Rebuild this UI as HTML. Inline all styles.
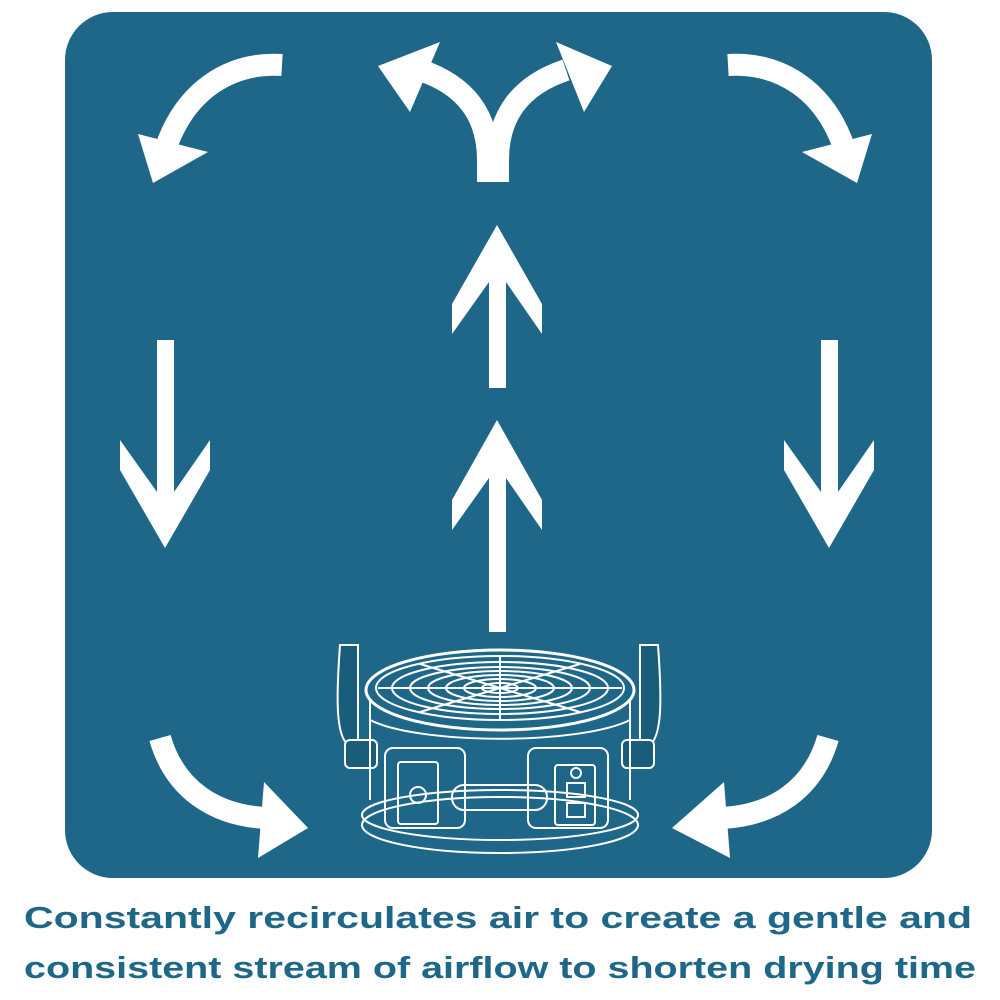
<!DOCTYPE html>
<html><head><meta charset="utf-8"><style>
html,body{margin:0;padding:0;background:#fff;}
svg{display:block}
</style></head><body>
<svg width="1000" height="1000" viewBox="0 0 1000 1000" xmlns="http://www.w3.org/2000/svg">
<rect x="65" y="12" width="867" height="866" rx="48" fill="#1e6788"/>
<g fill="#fff">
<path d="M282,65 C230,62 185,90 165,150" stroke="#fff" stroke-width="22" fill="none"/>
<polygon points="138,134 208,152 153,183"/>
<path d="M728,65 C780,62 825,90 845,150" stroke="#fff" stroke-width="22" fill="none"/>
<polygon points="872,134 802,152 857,183"/>
<path d="M488,182 L488,160 C488,115 465,85 420,70" stroke="#fff" stroke-width="22" fill="none"/>
<path d="M498,182 L498,160 C498,115 521,85 566,70" stroke="#fff" stroke-width="22" fill="none"/>
<polygon points="378,66 440,42 410,112"/>
<polygon points="612,66 556,42 584,112"/>
<polygon points="157,340 174,340 174,492 210,440 210,470 165,548 120,470 120,440 157,492"/>
<polygon points="821,340 838,340 838,492 874,440 874,470 829,548 784,470 784,440 821,492"/>
<polygon points="489,388 506,388 506,282 542,334 542,304 497,225 452,304 452,334 489,282"/>
<polygon points="489,632 506,632 506,478 542,530 542,500 497,420 452,500 452,530 489,478"/>
<path d="M160,738 C175,790 215,815 265,818" stroke="#fff" stroke-width="22" fill="none"/>
<polygon points="258,858 308,828 264,782"/>
<path d="M828,738 C813,790 773,815 723,818" stroke="#fff" stroke-width="22" fill="none"/>
<polygon points="730,858 672,828 724,782"/>
</g>
<g fill="none" stroke="#fff" stroke-width="2">
<path d="M340,645 h18 v100 h-10 c-12,-10 -12,-45 -8,-100z" fill="#1a5d7b"/>
<path d="M640,645 h18 c4,55 4,90 -8,100 h-10z" fill="#1a5d7b"/>
<rect x="345" y="740" width="32" height="28" rx="5" fill="#1a5d7b"/>
<rect x="622" y="740" width="32" height="28" rx="5" fill="#1a5d7b"/>
<path d="M370,700 L370,800 M630,700 L630,800"/>
<path d="M370,720 C420,745 580,745 630,720"/>
<ellipse cx="500" cy="690" rx="134" ry="40" stroke-width="3"/>
<ellipse cx="500" cy="688" rx="124" ry="32"/>
<ellipse cx="500" cy="688" rx="108" ry="26"/>
<ellipse cx="500" cy="688" rx="90" ry="21"/>
<ellipse cx="500" cy="688" rx="72" ry="17"/>
<ellipse cx="500" cy="688" rx="54" ry="13"/>
<ellipse cx="500" cy="688" rx="36" ry="9"/>
<ellipse cx="500" cy="688" rx="18" ry="5"/>
<line x1="500" y1="656" x2="500" y2="720"/>
<line x1="378" y1="688" x2="622" y2="688"/>
<line x1="420" y1="664" x2="580" y2="712"/>
<line x1="420" y1="712" x2="580" y2="664"/>
<rect x="385" y="748" width="80" height="80" rx="8"/>
<rect x="398" y="762" width="40" height="62" rx="3"/>
<circle cx="418" cy="795" r="8"/>
<rect x="528" y="748" width="80" height="80" rx="8"/>
<rect x="555" y="765" width="40" height="60" rx="3"/>
<rect x="567" y="783" width="18" height="14"/>
<rect x="567" y="803" width="18" height="14"/>
<circle cx="576" cy="773" r="5"/>
<rect x="452" y="785" width="95" height="25" rx="12"/>
<ellipse cx="500" cy="815" rx="138" ry="25"/>
<ellipse cx="500" cy="825" rx="138" ry="28"/>
</g>
<g font-family="Liberation Sans, sans-serif" font-weight="bold" font-size="31" fill="#1e6788">
<text x="24" y="928" textLength="948" lengthAdjust="spacingAndGlyphs">Constantly recirculates air to create a gentle and</text>
<text x="24" y="978" textLength="952" lengthAdjust="spacingAndGlyphs">consistent stream of airflow to shorten drying time</text>
</g>
</svg>
</body></html>
